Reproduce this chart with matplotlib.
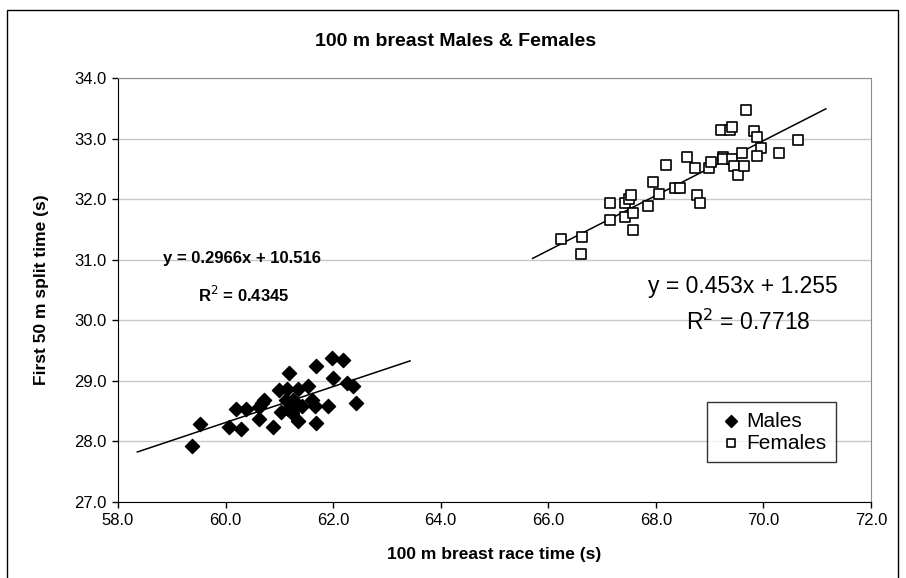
import matplotlib
matplotlib.use("Agg")
import matplotlib.pyplot as plt
import numpy as np
from matplotlib.patches import Rectangle

plt.rcParams['font.family'] = ['Liberation Sans', 'DejaVu Sans']

# race time (s) and first 50 m split (s)
males_time = [59.37, 59.53, 60.07, 60.28, 60.19, 60.38, 60.62, 60.62, 60.67, 60.72,
              60.89, 61.00, 61.18, 61.14, 61.04, 61.12, 61.17, 61.26, 61.34, 61.24,
              61.30, 61.35, 61.43, 61.54, 61.61, 61.66, 61.69, 61.69, 61.90, 61.98,
              62.18, 61.99, 62.25, 62.37, 62.42]
males_split = [27.93, 28.29, 28.23, 28.20, 28.54, 28.54, 28.37, 28.57, 28.63, 28.69,
               28.24, 28.85, 29.13, 28.86, 28.48, 28.69, 28.53, 28.69, 28.86, 28.47,
               28.55, 28.33, 28.58, 28.92, 28.69, 28.59, 28.31, 29.25, 28.58, 29.37,
               29.34, 29.04, 28.96, 28.91, 28.63]

females_time = [66.23, 66.63, 66.60, 67.15, 67.15, 67.42, 67.42, 67.50, 67.54, 67.58,
                67.58, 67.85, 67.94, 68.06, 68.18, 68.36, 68.45, 68.58, 68.73, 68.76,
                68.82, 68.98, 69.03, 69.21, 69.38, 69.41, 69.25, 69.25, 69.41, 69.46,
                69.52, 69.64, 69.61, 69.67, 69.83, 69.88, 69.95, 69.88, 70.28, 70.64]
females_split = [31.34, 31.38, 31.09, 31.93, 31.66, 31.93, 31.71, 32.01, 32.07, 31.77,
                 31.49, 31.88, 32.28, 32.09, 32.57, 32.19, 32.19, 32.69, 32.52, 32.07,
                 31.93, 32.52, 32.61, 33.14, 33.14, 33.19, 32.70, 32.67, 32.66, 32.55,
                 32.40, 32.55, 32.76, 33.47, 33.12, 33.03, 32.85, 32.72, 32.76, 32.98]

# linear trendlines: slope, intercept, x-range
males_fit = (0.2966, 10.516)
males_fit_range = (58.36, 63.43)
males_r2 = 0.4345
females_fit = (0.453, 1.255)
females_fit_range = (65.71, 71.16)
females_r2 = 0.7718

fig = plt.figure(figsize=(9.06, 5.78), dpi=100)
ax = fig.add_axes([0.1302, 0.1315, 0.8312, 0.7336])

# chart border
fig.patches.append(Rectangle((7 / 906, -0.05), 891 / 906, 1.05 - 10 / 578,
                             transform=fig.transFigure, fill=False,
                             edgecolor='black', linewidth=1.0))

ax.scatter(males_time, males_split, marker='D', s=52, color='black',
           label='Males', zorder=3)
ax.scatter(females_time, females_split, marker='s', s=44, facecolor='white',
           edgecolor='black', linewidths=1.2, label='Females', zorder=3)

for (m, c), (x0, x1) in [(males_fit, males_fit_range),
                         (females_fit, females_fit_range)]:
    xs = np.array([x0, x1])
    ax.plot(xs, m * xs + c, color='black', linewidth=1.1, zorder=2)

ax.text(60.3, 31.02, f"y = {males_fit[0]}x + {males_fit[1]}", ha='center',
        va='center', fontsize=12, fontweight='bold')
ax.text(60.33, 30.42, f"R$^2$ = {males_r2}", ha='center', va='center',
        fontsize=12, fontweight='bold')
ax.text(69.62, 30.56, f"y = {females_fit[0]}x + {females_fit[1]}", ha='center',
        va='center', fontsize=16.5)
ax.text(69.72, 29.96, f"R$^2$ = {females_r2}", ha='center', va='center',
        fontsize=16.5)

ax.set_xlim(58, 72)
ax.set_ylim(27, 34)
ax.set_xticks(np.arange(58, 72.1, 2))
ax.set_yticks(np.arange(27, 34.1, 1))
ax.xaxis.set_major_formatter(matplotlib.ticker.FormatStrFormatter('%.1f'))
ax.yaxis.set_major_formatter(matplotlib.ticker.FormatStrFormatter('%.1f'))
ax.tick_params(direction='out', length=4, width=1, labelsize=12, pad=4)
ax.grid(axis='y', color='#c8c8c8', linewidth=1.0)
ax.set_axisbelow(True)
for side in ('top', 'right'):
    ax.spines[side].set_color('#8c8c8c')
for side in ('left', 'bottom'):
    ax.spines[side].set_color('black')

ax.set_xlabel('100 m breast race time (s)', fontsize=12.5, fontweight='bold')
ax.xaxis.set_label_coords(0.5, -0.106)
ax.set_ylabel('First 50 m split time (s)', fontsize=12.5, fontweight='bold')
ax.yaxis.set_label_coords(-0.092, 0.5)
fig.text(456 / 906, 1 - 42 / 578, '100 m breast Males & Females', ha='center',
         va='center', fontsize=14, fontweight='bold')

leg = ax.legend(loc='lower right', bbox_to_anchor=(0.9535, 0.094), fontsize=15,
                frameon=True, fancybox=False, handletextpad=0.0,
                handlelength=1.45, borderpad=0.45, labelspacing=0.15,
                markerscale=0.85, borderaxespad=0)
leg.get_frame().set_edgecolor('black')
leg.get_frame().set_linewidth(1.0)

fig.savefig('out.png', dpi=100)
